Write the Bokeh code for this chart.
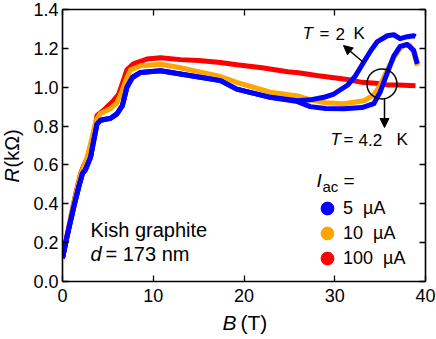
import math
from bokeh.plotting import figure
from bokeh.layouts import row, column
from bokeh.models import (LinearAxis, FixedTicker, Label, Arrow, NormalHead,
                          Legend, LegendItem)
from bokeh.embed import file_html
from bokeh.resources import INLINE

# ---------------- data ----------------
# T = 4.2 K, 100 uA (red)
B_red = [0.0, 0.5, 1.0, 1.5, 2.0, 2.2, 2.7, 3.3, 3.8, 4.5, 5.6, 6.2, 6.6, 7.1, 7.8,
         9.3, 10.8, 13.0, 15.0, 17.4, 19.2, 22.0, 24.8, 26.0, 28.0, 31.4, 33.0,
         34.5, 35.8, 37.0, 38.9]
R_red = [0.12, 0.235, 0.35, 0.46, 0.555, 0.58, 0.635, 0.71, 0.855, 0.88, 0.93, 0.965,
         1.02, 1.09, 1.12, 1.145, 1.152, 1.142, 1.138, 1.127, 1.116, 1.10, 1.08,
         1.074, 1.06, 1.04, 1.025, 1.02, 1.012, 1.012, 1.008]

# T = 4.2 K, 10 uA (orange)
B_orange = [0.0, 0.5, 1.0, 1.5, 2.0, 2.2, 2.7, 3.2, 3.7, 4.2, 5.3, 6.0, 6.6, 7.1,
            7.5, 8.6, 10.8, 13.0, 14.0, 17.4, 19.2, 22.9, 25.9, 27.3, 29.0, 31.0,
            33.2, 34.3, 35.0, 35.8, 36.5, 37.2, 37.8, 38.3, 38.7, 39.1]
R_orange = [0.12, 0.232, 0.345, 0.455, 0.55, 0.575, 0.635, 0.73, 0.83, 0.865, 0.89,
            0.92, 0.985, 1.05, 1.09, 1.11, 1.118, 1.10, 1.09, 1.055, 1.025, 0.974,
            0.955, 0.935, 0.92, 0.915, 0.93, 0.96, 1.01, 1.09, 1.15, 1.20, 1.22,
            1.215, 1.18, 1.11]

# T = 4.2 K, 5 uA (blue)
B_blue4 = [0.0, 0.5, 1.25, 1.8, 2.2, 2.5, 3.1, 3.45, 3.8, 4.2, 5.3, 6.0, 6.6, 7.1,
           7.7, 8.6, 10.8, 13.0, 17.4, 19.2, 22.9, 25.9, 27.3, 29.0, 31.0, 33.0,
           34.3, 35.0, 35.8, 36.5, 37.2, 38.0, 38.7, 39.1]
R_blue4 = [0.12, 0.232, 0.385, 0.488, 0.556, 0.573, 0.64, 0.727, 0.81, 0.83, 0.84,
           0.863, 0.905, 1.0, 1.05, 1.076, 1.085, 1.068, 1.034, 0.99, 0.948, 0.926,
           0.90, 0.89, 0.889, 0.895, 0.915, 0.975, 1.075, 1.16, 1.21, 1.22, 1.19,
           1.12]

# T = 2 K, 5 uA (blue)
B_blue2 = [0.0, 0.5, 1.25, 1.8, 2.2, 2.5, 3.1, 3.45, 3.8, 4.2, 5.3, 6.0, 6.6, 7.1,
           7.7, 8.6, 10.8, 13.0, 17.4, 19.2, 22.9, 25.9, 27.3, 28.8, 29.9, 31.4,
           32.3, 33.2, 34.0, 34.7, 35.8, 36.5, 37.2, 38.0, 38.7, 38.9]
R_blue2 = [0.12, 0.232, 0.385, 0.488, 0.556, 0.573, 0.64, 0.727, 0.81, 0.83, 0.84,
           0.863, 0.905, 1.0, 1.05, 1.076, 1.085, 1.068, 1.034, 0.99, 0.948, 0.93,
           0.935, 0.948, 0.965, 1.01, 1.06, 1.13, 1.19, 1.235, 1.265, 1.27, 1.25,
           1.26, 1.265, 1.26]

# crossing point marked by the circle
cross_B = 35.2
cross_R = 1.017

x_ticks = [0, 10, 20, 30, 40]
x_tick_labels = ["0", "10", "20", "30", "40"]
y_ticks = [0.0, 0.2, 0.4, 0.6, 0.8, 1.0, 1.2, 1.4]
y_tick_labels = ["0.0", "0.2", "0.4", "0.6", "0.8", "1.0", "1.2", "1.4"]
legend_labels = ["5  \u00b5A", "10  \u00b5A", "100  \u00b5A"]
legend_colors = ["#0000ff", "#ffa500", "#ff0000"]

# ---------------- layout ----------------
FONT = "Liberation Sans"
W, H = 436, 339          # whole page area
LW_STRIP = 24            # strip at the left holding the y-axis title
BH_STRIP = 28            # strip at the bottom holding the x-axis title
MW, MH = W - LW_STRIP, H - BH_STRIP   # main figure size
ML, MR, MT, MB = 62 - LW_STRIP, 11, 9, 30
X0, X1, Y0, Y1 = 0, 40, 0, 1.4
# page pixel positions of the frame
FL, FR, FT, FB = 62, W - MR, MT, MH - MB


def fx(px):
    return X0 + (px - FL) * (X1 - X0) / (FR - FL)


def fy(py):
    return Y0 + (FB - py) * (Y1 - Y0) / (FB - FT)


p = figure(width=MW, height=MH, x_range=(X0, X1), y_range=(Y0, Y1),
           output_backend="svg", toolbar_location=None,
           min_border_left=ML, min_border_right=MR, min_border_top=MT,
           min_border_bottom=MB)
p.grid.visible = False
p.outline_line_color = None
p.background_fill_color = "white"
p.border_fill_color = "white"

for ax in (p.xaxis[0], p.yaxis[0]):
    ax.major_tick_in = 6
    ax.major_tick_out = 0
    ax.minor_tick_in = 0
    ax.minor_tick_out = 0
    ax.axis_line_width = 1.6
    ax.major_tick_line_width = 1.3
    ax.major_label_text_font = FONT
    ax.major_label_text_font_size = "18px"
    ax.major_label_text_color = "black"
    ax.axis_line_color = "black"

p.xaxis[0].ticker = FixedTicker(ticks=x_ticks)
p.xaxis[0].major_label_overrides = {t: l for t, l in zip(x_ticks, x_tick_labels)}
p.xaxis[0].major_label_standoff = 7
p.yaxis[0].ticker = FixedTicker(ticks=y_ticks)
p.yaxis[0].major_label_overrides = {t: l for t, l in zip(y_ticks, y_tick_labels)}
p.yaxis[0].major_label_standoff = 4

top = LinearAxis(ticker=FixedTicker(ticks=x_ticks), major_tick_in=6, major_tick_out=0,
                 minor_tick_in=0, minor_tick_out=0, major_label_text_font_size="1px",
                 major_label_overrides={t: "" for t in x_ticks},
                 major_label_standoff=0, axis_line_width=1.6, major_tick_line_width=1.3,
                 axis_line_color="black", major_tick_line_color="black")
right = LinearAxis(ticker=FixedTicker(ticks=y_ticks), major_tick_in=6, major_tick_out=0,
                   minor_tick_in=0, minor_tick_out=0, major_label_text_font_size="1px",
                   major_label_overrides={t: "" for t in y_ticks},
                   major_label_standoff=0, axis_line_width=1.6, major_tick_line_width=1.3,
                   axis_line_color="black", major_tick_line_color="black")
p.add_layout(top, "above")
p.add_layout(right, "right")

# ---------------- curves ----------------
LWD = 5
p.line(B_red, R_red, line_color=legend_colors[2], line_width=LWD, line_join="round")
p.line(B_orange, R_orange, line_color=legend_colors[1], line_width=LWD, line_join="round")
p.line(B_blue4, R_blue4, line_color=legend_colors[0], line_width=LWD, line_join="round")
p.line(B_blue2, R_blue2, line_color=legend_colors[0], line_width=LWD, line_join="round")

p.scatter(x=[cross_B], y=[cross_R], marker="circle", size=30, fill_color=None,
          line_color="black", line_width=1.5)

# ---------------- annotations ----------------
def lab(fig, text, x, y, size, style="normal", angle=0.0, align="left"):
    fig.add_layout(Label(x=x, y=y, text=text, text_font=FONT,
                         text_font_size=size, text_font_style=style,
                         text_color="black", text_baseline="middle",
                         text_align=align, angle=angle))


def plab(text, px, py, size, style="normal"):
    lab(p, text, fx(px), fy(py), size, style)

plab("T", 302, 33, "17px", "italic")
plab("=", 319, 33, "17px")
plab("2", 335, 33, "17px")
plab("K", 353, 33, "17px")
plab("T", 330, 139, "17px", "italic")
plab("=", 343, 139, "17px")
plab("4.2", 358, 139, "17px")
plab("K", 396, 139, "17px")

plab("Kish graphite", 90, 229, "20px")
plab("d", 90, 253, "20px", "italic")
plab("= 173 nm", 105, 253, "20px")

plab("I", 316, 180, "19px", "italic")
plab("ac", 322, 186, "15px")
plab("=", 343, 180, "19px")

p.add_layout(Arrow(x_start=fx(363), y_start=fy(62), x_end=fx(343), y_end=fy(45),
                   line_width=1.5, line_color="black",
                   end=NormalHead(size=9, fill_color="black", line_color="black")))
p.add_layout(Arrow(x_start=fx(384), y_start=fy(98), x_end=fx(384), y_end=fy(127),
                   line_width=1.5, line_color="black",
                   end=NormalHead(size=9, fill_color="black", line_color="black")))

# ---------------- legend (one per item) ----------------
leg_centers_py = [208, 233, 258]
for lbl, col, cy in zip(legend_labels, legend_colors, leg_centers_py):
    r = p.scatter(x=[float("nan")], y=[float("nan")], marker="circle",
                  fill_color=col, line_color=col)
    leg = Legend(items=[LegendItem(label=lbl, renderers=[r], index=0)],
                 location=(327 - 16 - FL, FB - cy - 16),
                 glyph_width=32, glyph_height=32, label_standoff=0,
                 padding=0, margin=0, spacing=0,
                 border_line_color=None, background_fill_alpha=0,
                 label_text_font=FONT, label_text_font_size="18px",
                 label_text_color="black")
    p.add_layout(leg)


# ---------------- axis-title strips ----------------
def strip(w, h, x_range, y_range, bl=0, br=0):
    f = figure(width=w, height=h, x_range=x_range, y_range=y_range,
               output_backend="svg", toolbar_location=None,
               x_axis_location=None, y_axis_location=None,
               min_border=0, min_border_left=bl, min_border_right=br,
               min_border_top=0, min_border_bottom=0)
    f.grid.visible = False
    f.outline_line_color = None
    f.background_fill_color = "white"
    f.border_fill_color = "white"
    return f

# left strip, page x 0..24, y 0..339 (pixel coordinates)
ps = strip(LW_STRIP, H, (0, LW_STRIP), (0, H))
lab(ps, "R", 11, H - 182, "20px", "italic", angle=math.pi / 2)
lab(ps, "(k\u03a9)", 11, H - 167, "20px", angle=math.pi / 2)

# bottom strip, same horizontal frame as the main plot
pb = strip(MW, BH_STRIP, (X0, X1), (0, BH_STRIP), bl=ML, br=MR)
lab(pb, "B", fx(222), H - 322, "21px", "italic")
lab(pb, "(T)", fx(240), H - 322, "21px")

layout = row(ps, column(p, pb, spacing=0), spacing=0)

open("out.html", "w").write(file_html(layout, INLINE))
